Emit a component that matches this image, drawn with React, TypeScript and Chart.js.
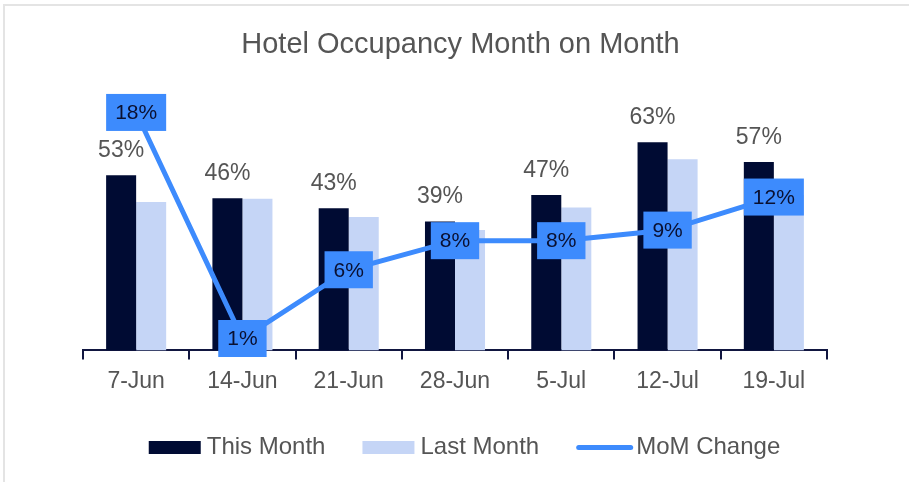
import React, { useEffect, useRef } from "react";
import { Chart, registerables } from "chart.js";

Chart.register(...registerables);

// ---- data ----
const categories = ["7-Jun", "14-Jun", "21-Jun", "28-Jun", "5-Jul", "12-Jul", "19-Jul"];
const thisMonth = [53, 46, 43, 39, 47, 63, 57];
const lastMonth = [44.9, 45.9, 40.4, 36.4, 43.2, 57.8, 47];
const momChange = [18.0, 0.9, 6.1, 8.3, 8.3, 9.1, 11.6];
const seriesNames = ["This Month", "Last Month", "MoM Change"];
const titleText = "Hotel Occupancy Month on Month";

// ---- styles ----
const NAVY = "#000B33";
const AXIS = "#111640";
const LIGHT = "#C5D5F6";
const BLUE = "#3D8BFD";
const TEXT = "#555555";
const BOX_TEXT = "#0A1030";
const FONT = "'Liberation Sans', Arial, sans-serif";

const decorPlugin = {
  id: "decor",
  afterDatasetsDraw(chart: any) {
    const ctx = chart.ctx as CanvasRenderingContext2D;
    ctx.save();
    ctx.textAlign = "center";
    ctx.textBaseline = "middle";
    // bar value labels
    const m0 = chart.getDatasetMeta(0);
    ctx.font = `23px ${FONT}`;
    ctx.fillStyle = TEXT;
    m0.data.forEach((el: any, i: number) => {
      ctx.fillText(`${Math.round(thisMonth[i])}%`, el.x, el.y - 24.5);
    });
    // line value boxes
    const m2 = chart.getDatasetMeta(2);
    ctx.font = `21px ${FONT}`;
    m2.data.forEach((el: any, i: number) => {
      const t = `${Math.round(momChange[i])}%`;
      const w = ctx.measureText(t).width + 18;
      const h = 37;
      ctx.fillStyle = BLUE;
      ctx.fillRect(el.x - w / 2, el.y - h / 2, w, h);
      ctx.fillStyle = BOX_TEXT;
      ctx.fillText(t, el.x, el.y + 1);
    });
    ctx.restore();
  },
  afterDraw(chart: any) {
    const ctx = chart.ctx as CanvasRenderingContext2D;
    ctx.save();
    // title
    ctx.font = `29px ${FONT}`;
    ctx.fillStyle = TEXT;
    ctx.textAlign = "center";
    ctx.textBaseline = "middle";
    ctx.fillText(titleText, 460.5, 44.5);

    // legend
    ctx.font = `24px ${FONT}`;
    ctx.textAlign = "left";
    const markerW = [52, 52, 57];
    const markerGap = [6, 6, 3];
    const itemGap = 37;
    const widths = seriesNames.map((n) => ctx.measureText(n).width);
    let total = 0;
    seriesNames.forEach((_, i) => {
      total += markerW[i] + markerGap[i] + widths[i];
      if (i < seriesNames.length - 1) total += itemGap;
    });
    let x = 464.5 - total / 2;
    const cy = 447.5;
    const colors = [NAVY, LIGHT, BLUE];
    seriesNames.forEach((name, i) => {
      if (i < 2) {
        ctx.fillStyle = colors[i];
        ctx.fillRect(x, cy - 6.5, markerW[i], 13);
      } else {
        ctx.strokeStyle = colors[i];
        ctx.lineWidth = 5;
        ctx.lineCap = "round";
        ctx.beginPath();
        ctx.moveTo(x + 2.5, cy);
        ctx.lineTo(x + markerW[i] - 2.5, cy);
        ctx.stroke();
      }
      x += markerW[i] + markerGap[i];
      ctx.fillStyle = TEXT;
      ctx.fillText(name, x, cy);
      x += widths[i] + itemGap;
    });
    ctx.restore();
  },
};

export default function App() {
  const ref = useRef<HTMLCanvasElement>(null);

  useEffect(() => {
    if (!ref.current) return;
    const chart = new Chart(ref.current, {
      type: "bar",
      data: {
        labels: categories,
        datasets: [
          {
            type: "bar",
            label: seriesNames[0],
            data: thisMonth,
            backgroundColor: NAVY,
            yAxisID: "y",
            categoryPercentage: 0.565,
            barPercentage: 1.0,
            order: 2,
          },
          {
            type: "bar",
            label: seriesNames[1],
            data: lastMonth,
            backgroundColor: LIGHT,
            yAxisID: "y",
            categoryPercentage: 0.565,
            barPercentage: 1.0,
            order: 2,
          },
          {
            type: "line",
            label: seriesNames[2],
            data: momChange,
            borderColor: BLUE,
            backgroundColor: BLUE,
            borderWidth: 5,
            pointRadius: 0,
            tension: 0,
            yAxisID: "y2",
            order: 1,
          } as any,
        ],
      },
      options: {
        responsive: false,
        animation: false,
        devicePixelRatio: 1,
        layout: { padding: { left: 83, right: 82, top: 86, bottom: 79 } },
        plugins: {
          legend: { display: false },
          title: { display: false },
          tooltip: { enabled: false },
        },
        scales: {
          x: {
            offset: true,
            grid: {
              offset: true,
              drawOnChartArea: false,
              drawTicks: true,
              tickLength: 9,
              color: AXIS,
              lineWidth: 2,
            },
            border: { display: true, color: AXIS, width: 2 },
            ticks: {
              font: { family: FONT, size: 23 },
              color: TEXT,
              padding: 8,
              maxRotation: 0,
              autoSkip: false,
            },
          },
          y: { display: false, min: 0, max: 80 },
          y2: { display: false, min: 0, max: 20, position: "right" },
        },
      },
      plugins: [decorPlugin],
    });
    return () => chart.destroy();
  }, []);

  return (
    <div style={{ position: "fixed", left: 0, top: 0, width: 909, height: 482, background: "#fff", overflow: "hidden" }}>
      <div
        style={{
          position: "absolute",
          left: 3,
          top: 4,
          right: -10,
          bottom: -10,
          borderLeft: "2px solid #e4e4e4",
          borderTop: "2px solid #e4e4e4",
        }}
      />
      <canvas ref={ref} width={909} height={482} style={{ position: "absolute", left: 0, top: 0 }} />
    </div>
  );
}
